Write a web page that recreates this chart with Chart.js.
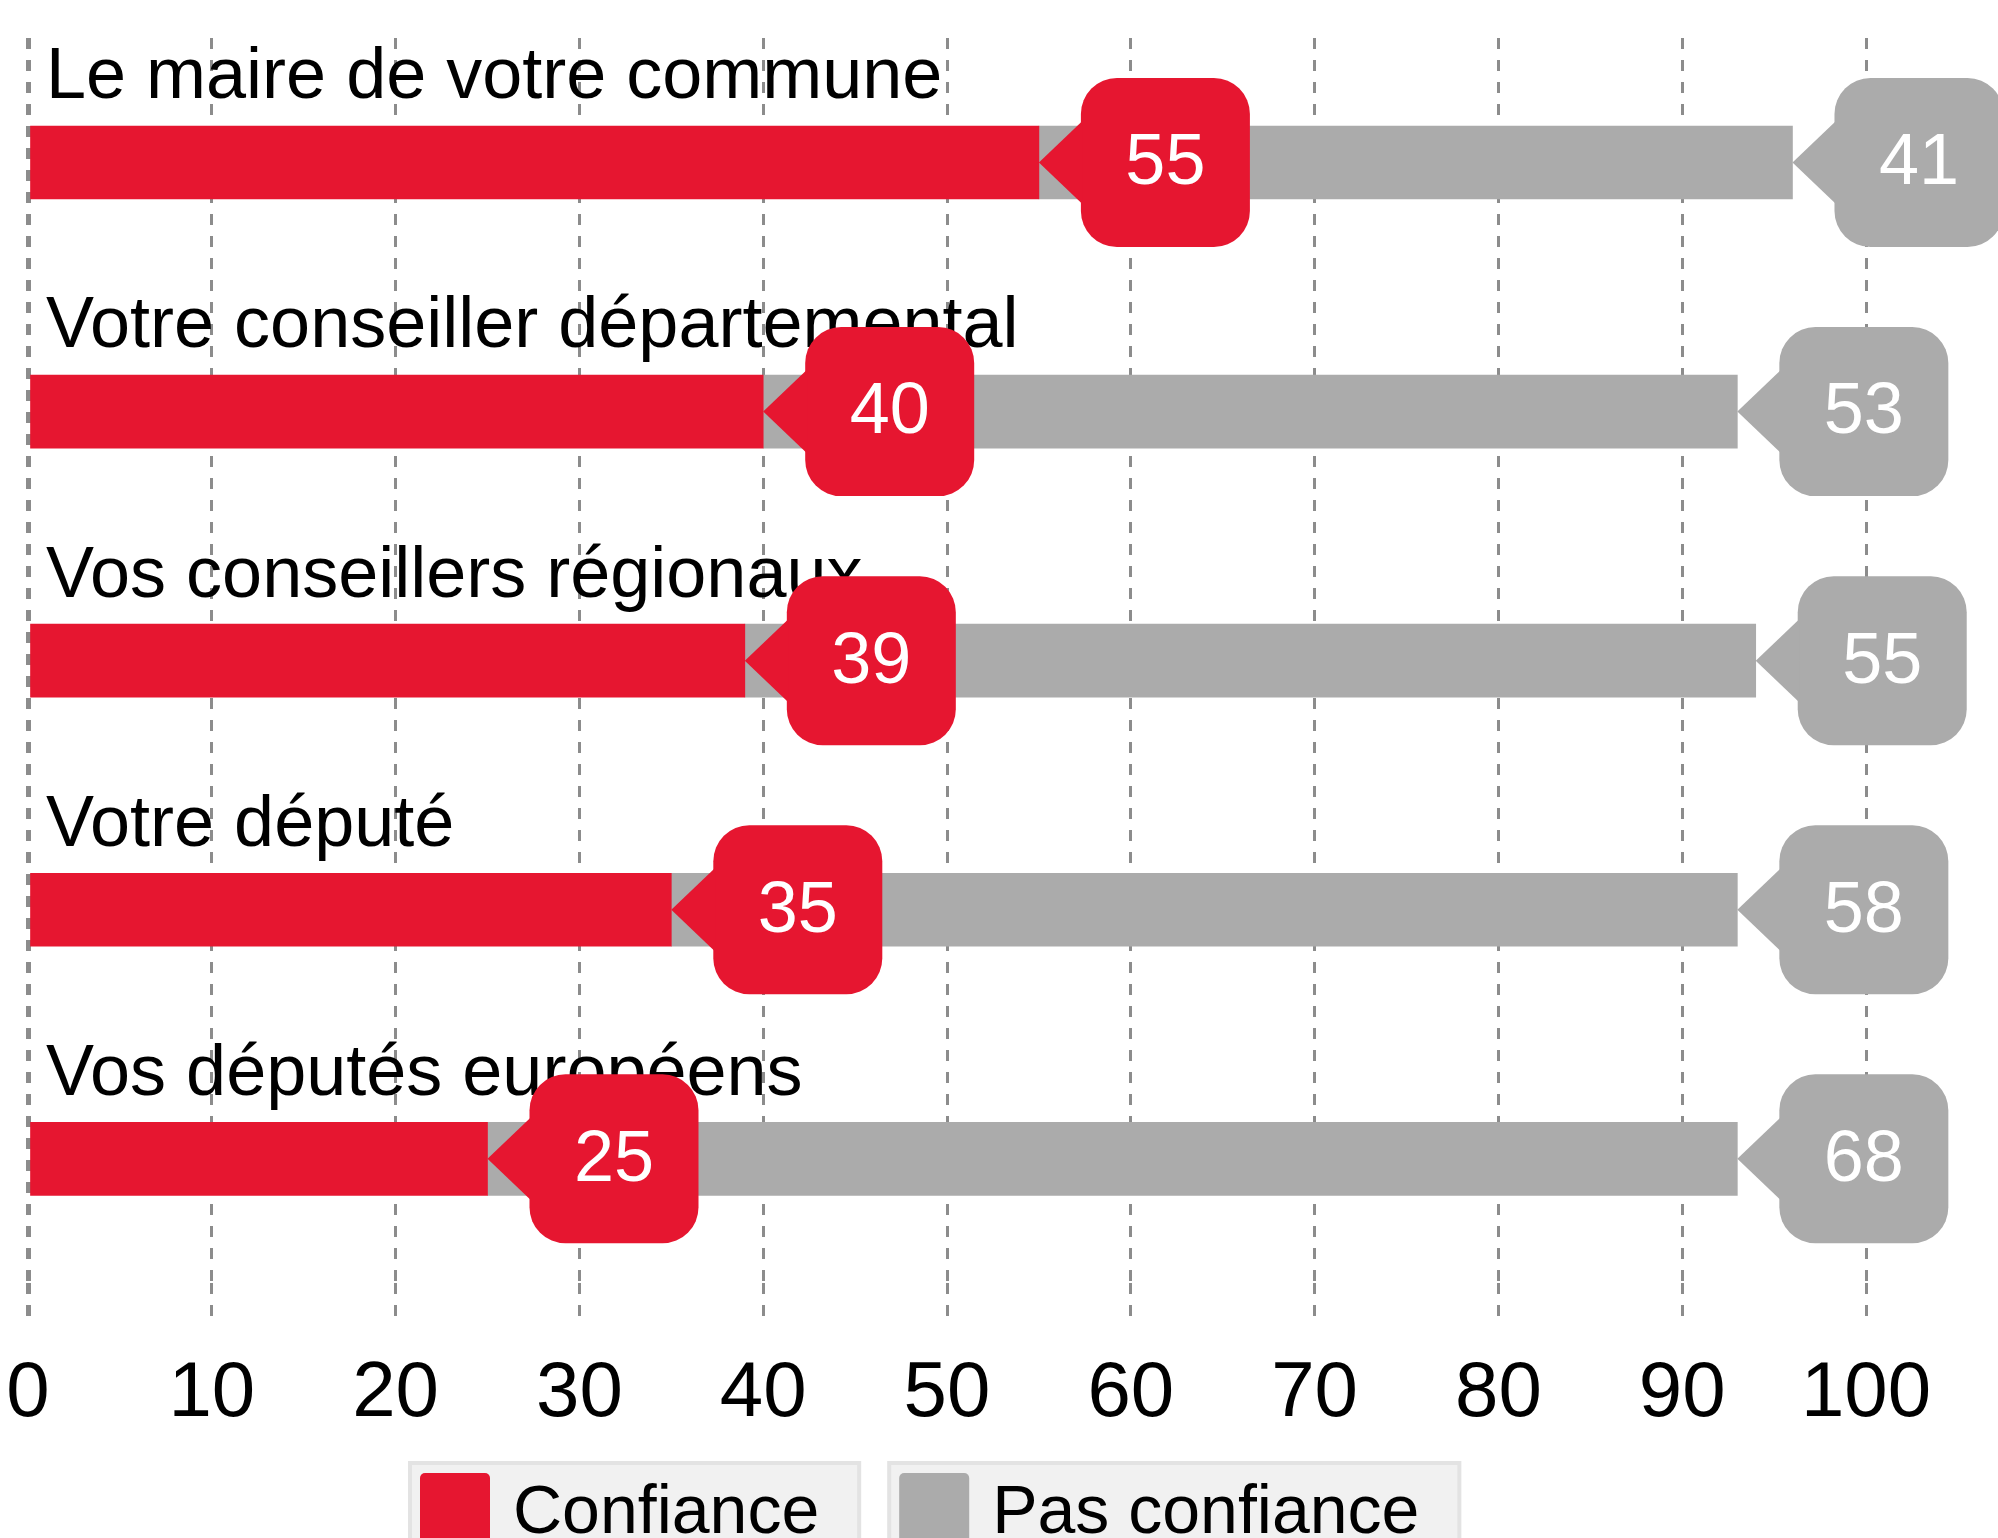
<!DOCTYPE html>
<html>
<head>
<meta charset="utf-8">
<script src="https://cdn.jsdelivr.net/npm/chart.js@4.4.1/dist/chart.umd.min.js"></script>
<style>
  html, body { margin: 0; padding: 0; background: #fff; }
  #wrap { width: 1998px; height: 1538px; }
</style>
</head>
<body>
<div id="wrap"><canvas id="chart" width="1998" height="1538"></canvas></div>
<script>
const categories = [
  'Le maire de votre commune',
  'Votre conseiller départemental',
  'Vos conseillers régionaux',
  'Votre député',
  'Vos députés européens'
];
const confiance = [55, 40, 39, 35, 25];
const pasConfiance = [41, 53, 55, 58, 68];
const seriesNames = ['Confiance', 'Pas confiance'];

const RED = '#e61630';
const GREY = '#ababab';
const FONT = '"Liberation Sans", Arial, Helvetica, sans-serif';

// bulles avec pointe à la fin de chaque segment
const calloutPlugin = {
  id: 'callouts',
  afterDatasetsDraw(chart) {
    const ctx = chart.ctx;
    chart.data.datasets.forEach((ds, di) => {
      const meta = chart.getDatasetMeta(di);
      meta.data.forEach((bar, i) => {
        const tipX = bar.x;
        const cy = bar.y;
        const left = tipX + 42;
        const size = 169;
        ctx.save();
        ctx.fillStyle = ds.backgroundColor;
        ctx.beginPath();
        ctx.roundRect(left, cy - size / 2, size, size, 36);
        ctx.fill();
        ctx.beginPath();
        ctx.moveTo(tipX, cy);
        ctx.lineTo(left + 2, cy - 42);
        ctx.lineTo(left + 2, cy + 42);
        ctx.closePath();
        ctx.fill();
        ctx.fillStyle = '#ffffff';
        ctx.font = '72px ' + FONT;
        ctx.textAlign = 'center';
        ctx.textBaseline = 'middle';
        ctx.fillText(String(ds.data[i]), left + size / 2, cy + 2);
        ctx.restore();
      });
    });
  }
};

// légende en boîtes grises
const legendPlugin = {
  id: 'boxLegend',
  afterDraw(chart) {
    const ctx = chart.ctx;
    ctx.save();
    ctx.font = '68px ' + FONT;
    let x = 408;
    const top = 1461;
    chart.data.datasets.forEach(ds => {
      const tw = ctx.measureText(ds.label).width;
      const w = 12 + 70 + 23 + tw + 42;
      ctx.fillStyle = '#e3e3e3';
      ctx.fillRect(x, top, w, 200);
      ctx.fillStyle = '#f1f1f1';
      ctx.fillRect(x + 4, top + 4, w - 8, 200);
      ctx.fillStyle = ds.backgroundColor;
      ctx.beginPath();
      ctx.roundRect(x + 12, top + 12, 70, 200, [5, 5, 0, 0]);
      ctx.fill();
      ctx.fillStyle = '#000000';
      ctx.textAlign = 'left';
      ctx.textBaseline = 'alphabetic';
      ctx.fillText(ds.label, x + 105, 1533);
      x += w + 26;
    });
    ctx.restore();
  }
};

const ctx = document.getElementById('chart').getContext('2d');
new Chart(ctx, {
  type: 'bar',
  data: {
    labels: categories,
    datasets: [
      { label: seriesNames[0], data: confiance, backgroundColor: RED, barThickness: 73 },
      { label: seriesNames[1], data: pasConfiance, backgroundColor: GREY, barThickness: 73 }
    ]
  },
  options: {
    indexAxis: 'y',
    responsive: false,
    animation: false,
    layout: { padding: { left: 28, right: 132, top: 38, bottom: 70 } },
    plugins: {
      legend: { display: false },
      tooltip: { enabled: false }
    },
    scales: {
      x: {
        stacked: true,
        min: 0,
        max: 100,
        afterFit: s => { s.paddingLeft = 0; },
        ticks: {
          stepSize: 10,
          padding: 27,
          color: '#000000',
          font: { family: FONT, size: 78 }
        },
        grid: {
          color: '#8c8c8c',
          lineWidth: c => (c.index === 0 ? 5 : 3),
          tickLength: 37,
          tickColor: '#8c8c8c',
          tickWidth: c => (c.index === 0 ? 5 : 3),
          tickBorderDash: [11, 11]
        },
        border: { display: false, dash: [11, 11] }
      },
      y: {
        stacked: true,
        z: 1,
        afterFit: s => { s.width = 0; s.paddingTop = 0; s.paddingBottom = 0; },
        grid: { display: false, drawTicks: false },
        border: { display: false },
        ticks: {
          mirror: true,
          padding: 18,
          labelOffset: -84,
          color: '#000000',
          font: { family: FONT, size: 72 }
        }
      }
    }
  },
  plugins: [calloutPlugin, legendPlugin]
});
</script>
</body>
</html>
